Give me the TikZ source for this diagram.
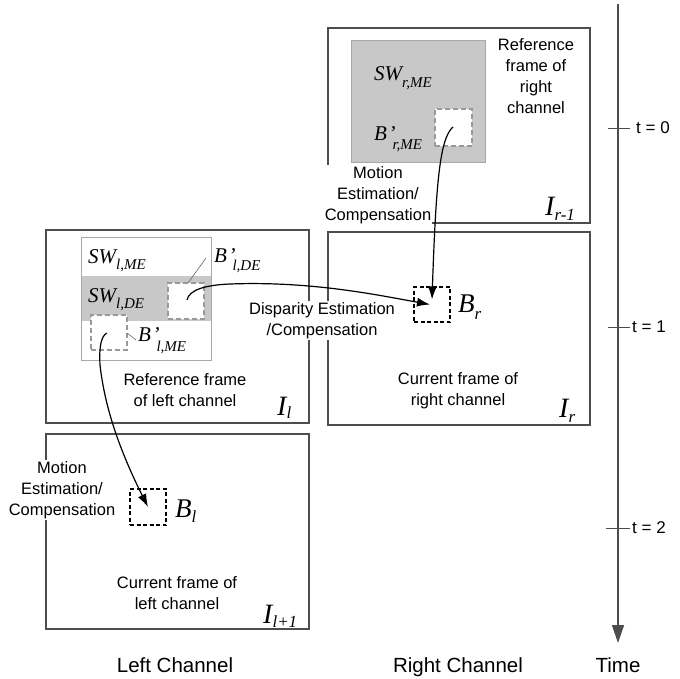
\documentclass[tikz,border=0pt]{standalone}
\usepackage{fontspec}
\setmainfont{Liberation Serif}
\setsansfont{Liberation Sans}
\usetikzlibrary{arrows.meta}

\definecolor{framegray}{HTML}{4D4D4D}
\definecolor{winfill}{HTML}{C8C8C8}
\definecolor{winline}{HTML}{A8A8A8}
\definecolor{dashgray}{HTML}{999999}

% symbol with subscript: size, symbol, sub size, subscript, drop
\newcommand{\symlab}[5]{{\fontsize{#1pt}{#1pt}\selectfont\itshape #2}\raisebox{-#5pt}{\fontsize{#3pt}{#3pt}\selectfont\itshape #4}}
\newcommand{\primed}[1]{B\kern1.5pt’\kern-#1pt}

\tikzset{
  frame/.style={draw=framegray, line width=1.3pt, inner sep=0pt, outer sep=0pt, anchor=north west},
  window/.style={draw=winline, line width=0.9pt, inner sep=0pt, outer sep=0pt, anchor=north west},
  band/.style={fill=winfill, inner sep=0pt, outer sep=0pt, anchor=north west},
  refblock/.style={draw=dashgray, fill=white, line width=2pt, dash pattern=on 5pt off 3pt, inner sep=0pt, outer sep=0pt, anchor=north west},
  curblock/.style={draw=black, line width=1.6pt, dash pattern=on 4pt off 2.5pt, inner sep=0pt, outer sep=0pt, anchor=north west},
  txt/.style={font=\sffamily\fontsize{16.5pt}{21pt}\selectfont, align=center, inner sep=0pt, anchor=north},
  bgtxt/.style={txt, fill=white, inner xsep=1pt, inner ysep=1pt},
  sym/.style={inner sep=0pt, anchor=base west},
  bottomlab/.style={font=\sffamily\fontsize{20.5pt}{24pt}\selectfont, inner sep=0pt, anchor=base},
  tlab/.style={font=\sffamily\fontsize{17pt}{20pt}\selectfont, inner sep=0pt, anchor=west},
  conn/.style={draw=black, line width=1.2pt, -{Latex[length=13pt,width=9pt]}},
  leader/.style={draw=black!60, line width=0.6pt},
  axis/.style={draw=framegray, line width=1.4pt, -{Triangle[length=18pt,width=12pt]}},
  tick/.style={draw=framegray, line width=1pt}
}

\begin{document}
\begin{tikzpicture}[x=1pt, y=-1pt]
\useasboundingbox (0,0) rectangle (680,678);

% ---------- frames ----------
\node[frame, minimum width=262pt, minimum height=195pt] (Irm) at (328,28) {};
\node[frame, minimum width=262pt, minimum height=193pt] (Ir) at (328,232) {};
\node[frame, minimum width=263pt, minimum height=193pt] (Il) at (46,230) {};
\node[frame, minimum width=263pt, minimum height=195pt] (Ilp) at (46,434) {};

% ---------- search window, right reference frame ----------
\node[band, draw=winline, line width=0.9pt, minimum width=134pt, minimum height=122pt] (SWr) at (351,40) {};
\node[refblock, minimum width=37pt, minimum height=37pt] (Bpr) at (435,109) {};

% ---------- search windows, left reference frame ----------
\node[band, minimum width=130pt, minimum height=45pt] (SWlde) at (81,276) {};
\node[window, minimum width=130pt, minimum height=123pt] (SWl) at (81,237) {};
\node[refblock, minimum width=36pt, minimum height=36pt] (Bplde) at (168,283) {};
\node[refblock, minimum width=36pt, minimum height=35pt] (Bplme) at (91,315) {};

% ---------- current blocks ----------
\node[curblock, minimum width=36pt, minimum height=35pt] (Br) at (414,287) {};
\node[curblock, minimum width=36pt, minimum height=36pt] (Bl) at (130,489) {};

% ---------- symbols ----------
\node[sym] (lSWrme) at (374,80) {\symlab{21}{SW}{15}{r,ME}{7}};
\node[sym] (lBprme) at (374,140) {\symlab{21}{\primed{3}}{15}{r,ME}{9}};
\node[sym] (lSWlme) at (88,263) {\symlab{21}{SW}{15}{l,ME}{6}};
\node[sym] (lSWlde) at (88,302) {\symlab{21}{SW}{15}{l,DE}{6}};
\node[sym] (lBplde) at (214,262) {\symlab{21}{\primed{3}}{15}{l,DE}{8}};
\node[sym] (lBplme) at (138,341) {\symlab{21}{\primed{3}}{15}{l,ME}{10}};
\node[sym] (lBr) at (458,312) {\symlab{27}{B}{17}{r}{7}};
\node[sym] (lBl) at (175,517) {\symlab{27}{B}{17}{l}{5}};
\node[sym] (lIrm) at (545,215) {\symlab{28}{I}{17}{r-1}{5}};
\node[sym] (lIr) at (559,417) {\symlab{28}{I}{17}{r}{5}};
\node[sym] (lIl) at (277,415) {\symlab{28}{I}{17}{l}{3}};
\node[sym] (lIlp) at (263,623) {\symlab{28}{I}{17}{l+1}{4}};

% leader lines from labels to blocks
\coordinate (ldA) at (206,258);
\coordinate (ldB) at (136,340);
\draw[leader] (ldA) -- (188,283);
\draw[leader] (ldB) -- (Bplme.east |- 0,333);

% ---------- captions ----------
\node[txt] (refR) at (536,38) {Reference\\frame of\\right\\channel};
\node[bgtxt] (motR) at (378,165) {Motion\\Estimation/\\Compensation};
\node[txt] (refL) at (185,373) {Reference frame\\of left channel};
\node[txt] (curR) at (458,372) {Current frame of\\right channel};
\node[txt] (curL) at (177,576) {Current frame of\\left channel};
\node[bgtxt] (disp) at (322,301) {Disparity Estimation\\/Compensation};
\node[bgtxt] (motL) at (62,460) {Motion\\Estimation/\\Compensation};

% ---------- connectors ----------
\coordinate (s1) at (453,127);
\coordinate (s2) at (187,300);
\coordinate (m2) at (230,284);
\coordinate (s3) at (107,333);
\coordinate (m3) at (100,365);
\draw[conn] (s1) .. controls +(-13,11) and +(4,-118) .. ([yshift=5pt]Br.center);
\draw[conn] (s2) .. controls +(2,-10) and +(-25,1) .. (m2)
                 .. controls +(80,-3) and +(-55,-10) .. ([xshift=-2pt]Br.center);
\draw[conn] (s3) .. controls +(-6,3) and +(-1,-18) .. (m3)
                 .. controls +(4,35) and +(-33,-66) .. (Bl.center);

% ---------- time axis ----------
\coordinate (ttop) at (618,4);
\coordinate (tend) at (618,643);
\draw[axis] (ttop) -- (tend);
\node[tlab] (t0) at (636,128) {t = 0};
\node[tlab] (t1) at (632,327) {t = 1};
\node[tlab] (t2) at (632,528) {t = 2};
\draw[tick] ([xshift=-10pt]ttop |- t0) -- ([xshift=12pt]ttop |- t0);
\draw[tick] ([xshift=-10pt]ttop |- t1) -- ([xshift=12pt]ttop |- t1);
\draw[tick] ([xshift=-12pt]ttop |- t2) -- ([xshift=12pt]ttop |- t2);

% ---------- bottom labels ----------
\node[bottomlab] (leftch) at (175,672) {Left Channel};
\node[bottomlab] (rightch) at (458,672) {Right Channel};
\node[bottomlab] (timelab) at (618,672) {Time};
\end{tikzpicture}
\end{document}
